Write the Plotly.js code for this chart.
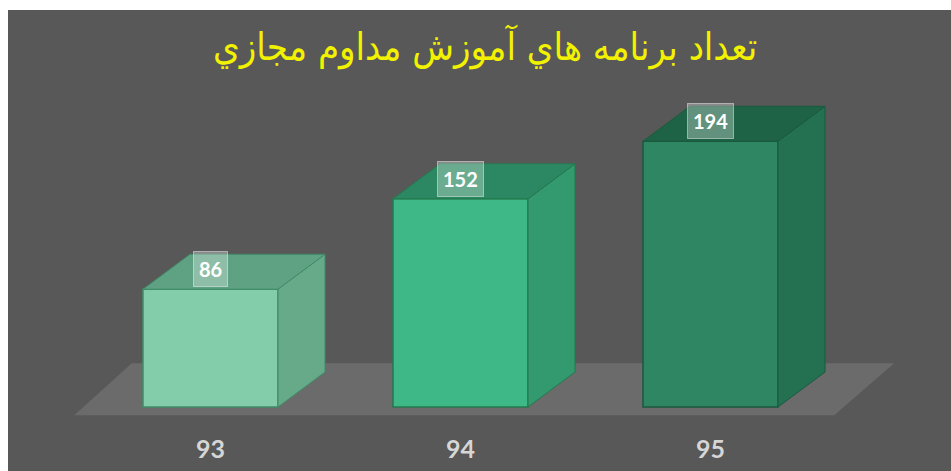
<!DOCTYPE html>
<html>
<head>
<meta charset="utf-8">
<script src="https://cdn.plot.ly/plotly-3.0.1.min.js"></script>
<style>
  html, body { margin: 0; padding: 0; background: #ffffff; }
  #chart { position: absolute; left: 8px; top: 10px; width: 943px; height: 461px; }
</style>
</head>
<body>
<div id="chart"></div>
<script>
// ---- data ----
const categories = ["93", "94", "95"];
const values = [86, 152, 194];
const valueLabels = ["86", "152", "194"];
const chartTitle = "تعداد برنامه هاي آموزش مداوم مجازي";

// ---- style ----
const frontColors = ["#84cdaa", "#3fb887", "#2e8662"];
const sideColors  = ["#66aa89", "#33996e", "#247152"];
const topColors   = ["#5fa283", "#2c8862", "#1f6347"];
const edgeColors  = ["#3f8c68", "#25794f", "#1a5a3e"];

const xPos = categories.map((c, i) => i);
const barW = 0.54;
const dx = 0.188;   // depth offset in x data units
const dy = 25.5;    // depth offset in y data units

const traces = [];

// side & top faces computed from data values
values.forEach((v, i) => {
  const xr = xPos[i] + barW / 2, xl = xPos[i] - barW / 2;
  traces.push({
    type: "scatter", mode: "lines", fill: "toself",
    x: [xr, xr + dx, xr + dx, xr, xr],
    y: [0, dy, v + dy, v, 0],
    fillcolor: sideColors[i], line: { color: edgeColors[i], width: 1 },
    hoverinfo: "skip", showlegend: false
  });
  traces.push({
    type: "scatter", mode: "lines", fill: "toself",
    x: [xl, xr, xr + dx, xl + dx, xl],
    y: [v, v, v + dy, v + dy, v],
    fillcolor: topColors[i], line: { color: edgeColors[i], width: 1 },
    hoverinfo: "skip", showlegend: false
  });
});

// front faces
traces.push({
  type: "bar",
  x: xPos, y: values, width: barW,
  marker: { color: frontColors, line: { color: edgeColors, width: 1.5 } },
  hoverinfo: "x+y", showlegend: false
});

const annotations = values.map((v, i) => ({
  x: xPos[i], y: v + 14.5, xref: "x", yref: "y",
  text: "<b>" + valueLabels[i] + "</b>", showarrow: false,
  font: { family: "Lato, 'Open Sans', sans-serif", size: 20, color: "#ffffff" },
  bgcolor: "rgba(255,255,255,0.3)", bordercolor: "rgba(255,255,255,0.45)",
  borderwidth: 1, borderpad: 5
}));

const layout = {
  width: 943, height: 461,
  margin: { l: 0, r: 0, t: 0, b: 51 },
  paper_bgcolor: "#585858", plot_bgcolor: "rgba(0,0,0,0)",
  title: {
    text: chartTitle, x: 0.506, xanchor: "center", y: 0.92, yanchor: "middle",
    yref: "container",
    font: { family: "'DejaVu Sans Condensed', 'DejaVu Sans', sans-serif", size: 38, color: "#f2f200" }
  },
  xaxis: {
    range: [-0.81, 2.962], tickvals: xPos, ticktext: categories,
    showgrid: false, zeroline: false, showline: false,
    ticks: "outside", ticklen: 7, tickcolor: "rgba(0,0,0,0)",
    tickfont: { family: "Lato, 'Open Sans', sans-serif", size: 25, color: "#d6d6d6", weight: "bold" },
    fixedrange: true
  },
  yaxis: {
    range: [-9.49, 289.8], visible: false, showgrid: false, zeroline: false, fixedrange: true
  },
  shapes: [{
    type: "path", layer: "below", xref: "x", yref: "y",
    path: "M -0.545 -6 L 2.495 -6 L 2.735 32 L -0.315 32 Z",
    fillcolor: "#6b6b6b", line: { width: 0 }
  }],
  annotations: annotations,
  bargap: 0
};

Plotly.newPlot("chart", traces, layout, { displayModeBar: false, staticPlot: true });
</script>
</body>
</html>
